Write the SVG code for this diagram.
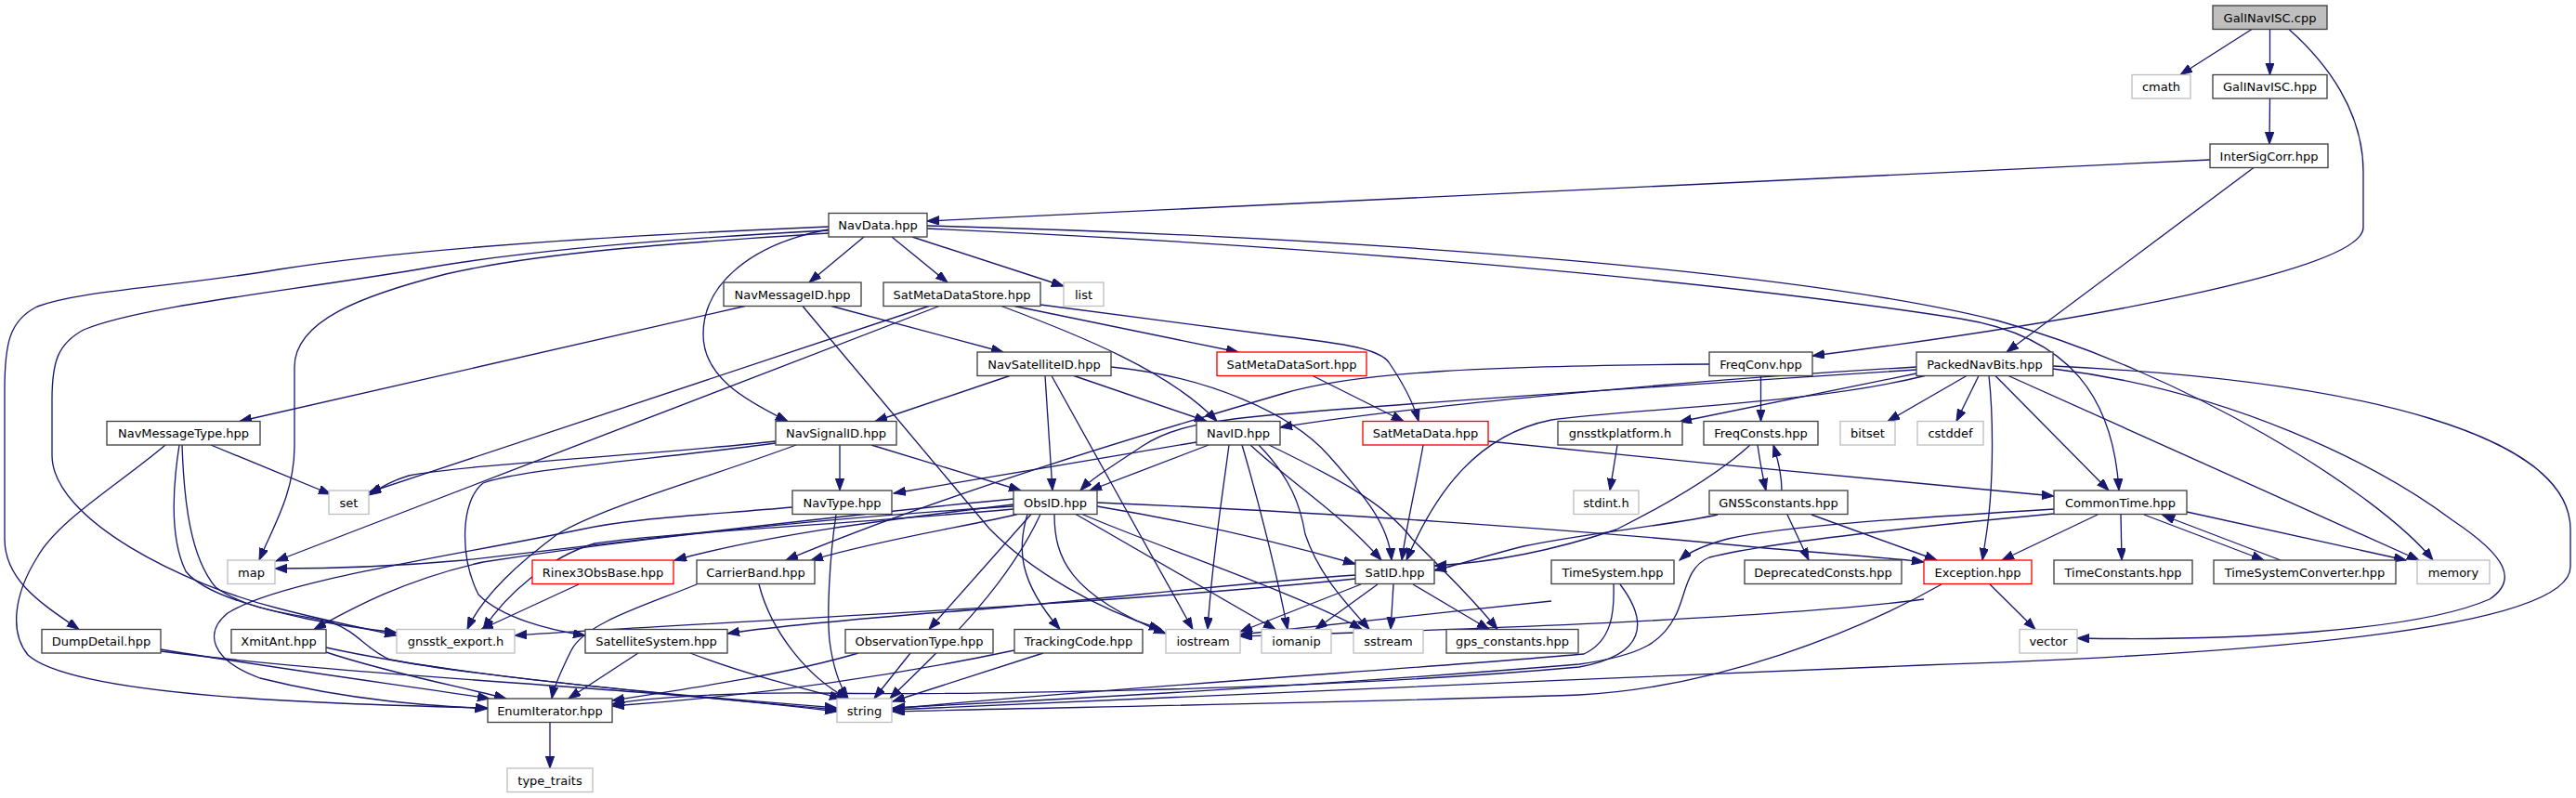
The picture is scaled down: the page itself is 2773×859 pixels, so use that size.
<svg xmlns="http://www.w3.org/2000/svg" width="2773" height="859" viewBox="0 0 2773 859">
<style>
.e path{fill:none;stroke:#191970;stroke-width:1.33;marker-end:url(#a)}
.nd rect{fill:#fff;stroke:#404040;stroke-width:1.33}
.nd.x rect{stroke:#bfbfbf}
.nd.r rect{stroke:#ff0000}
.nd.root rect{fill:#bfbfbf}
text{font-family:"DejaVu Sans","Liberation Sans",sans-serif;font-size:13px;text-anchor:middle;fill:#000}
</style>
<defs>
<marker id="a" markerUnits="userSpaceOnUse" markerWidth="14" markerHeight="10" refX="13" refY="4.7" orient="auto">
<path d="M0,0 L13,4.7 L0,9.4 z" fill="#191970" stroke="#191970" stroke-width="1"/>
</marker>
</defs>
<rect width="2773" height="859" fill="#fff"/>
<g id="edges" class="e">
<path d="M2424,31.5 L2347,80.5"/>
<path d="M2443.5,31.5 L2443.5,80.5"/>
<path d="M2464,31.5 C2505,68 2544,120 2544,185 L2544,245 C2544,290 2250,345 1951,383"/>
<path d="M2443.5,106 L2443,155"/>
<path d="M2379,172 L998,238"/>
<path d="M2426,180.5 L2160,379"/>
<path d="M930,255 L871,304"/>
<path d="M960,255 L1020,304"/>
<path d="M982,255 L1145,308"/>
<path d="M892,247 C810,262 757,305 757,360 C757,405 800,430 848,453.5"/>
<path d="M892,244 C700,252 450,266 300,290 C180,310 90,312 40,330 C10,345 5,370 5,420 L5,580 C5,625 45,650 85,677.5"/>
<path d="M892,248 C700,258 550,272 450,290 C300,315 150,330 90,355 C62,370 56,390 56,430 L56,490 C56,560 200,630 300,655 C350,668 390,676 427,684"/>
<path d="M892,251 C720,262 580,272 480,295 C390,318 317,345 317,395 L317,480 C317,530 295,565 279,603"/>
<path d="M998,246 C1500,268 1900,310 2110,343 C2230,362 2275,430 2281,528"/>
<path d="M998,243 C1500,256 1950,295 2150,345 C2350,400 2560,530 2619,603"/>
<path d="M802,329.5 L258,453.5"/>
<path d="M895,329.5 L1080,379"/>
<path d="M864,329.5 L1065,569 C1110,615 1180,655 1250,677.5"/>
<path d="M1000,329.5 L397,530"/>
<path d="M1011,329.5 L297,604"/>
<path d="M1078,329.5 C1160,360 1260,400 1310,453.5"/>
<path d="M1092,329.5 L1333,379"/>
<path d="M1120,328 L1380,362 C1450,370 1485,376 1495,390 C1512,415 1522,435 1527,453.5"/>
<path d="M1087,404.5 L942,453.5"/>
<path d="M1156,404.5 L1299,453.5"/>
<path d="M1125,404.5 L1133,528"/>
<path d="M1132,404.5 C1180,490 1240,600 1284,677.5"/>
<path d="M1196,395 C1300,405 1390,445 1430,490 C1470,535 1495,565 1498,603"/>
<path d="M1413,404.5 L1511,453.5"/>
<path d="M1840,392 C1600,394 1460,400 1380,424 C1250,462 1020,530 846,603"/>
<path d="M1895.5,404.5 L1895.5,453.5"/>
<path d="M2063,395 C1800,410 1500,440 1378,460"/>
<path d="M2063,398 C1800,415 1500,435 1390,445 C1300,452 1260,460 1230,480 C1200,500 1175,515 1163,528"/>
<path d="M2063,402 L1808,454"/>
<path d="M2072,404.5 C1950,435 1760,440 1670,452 C1590,468 1545,530 1514,603"/>
<path d="M2117,404.5 L2032,453.5"/>
<path d="M2130,404.5 L2106,453.5"/>
<path d="M2148,404.5 L2270,528"/>
<path d="M2141,404.5 C2146,450 2146,520 2139,570 L2134,603"/>
<path d="M2162,404.5 L2604,603"/>
<path d="M2210,397 C2400,420 2560,500 2640,560 C2700,600 2710,625 2680,645 C2600,680 2400,690 2236,687"/>
<path d="M2210,394 C2550,410 2767,470 2767,570 L2767,610 C2767,680 2400,705 2070,716 C1700,730 1200,755 961,764"/>
<path d="M227,479 L356,532"/>
<path d="M178,479 C130,520 62,560 40,600 C15,640 10,680 30,705 C80,750 350,758 524.5,762"/>
<path d="M193,479 C185,530 183,580 200,615 C220,640 280,655 330,666 C370,674 400,678 427,681"/>
<path d="M196,479 C198,540 205,600 232,632 C270,660 330,662 357,670 C385,680 395,700 420,710 C520,730 800,755 901,764"/>
<path d="M904,479 L904,528"/>
<path d="M938,479 L1099,528"/>
<path d="M835,475 C700,490 500,500 440,512 C420,518 410,525 397,533"/>
<path d="M835,477 C700,495 560,505 520,520 C495,540 495,600 515,640 C540,665 590,678 630,684"/>
<path d="M857,479 C760,515 650,545 600,575 C560,605 520,640 503,677.5"/>
<path d="M1288,476 L962,531"/>
<path d="M1301,479 L1173,528"/>
<path d="M1323,479 C1315,540 1305,600 1300,677.5"/>
<path d="M1337,479 C1355,540 1375,620 1386,677.5"/>
<path d="M1346,479 C1390,520 1440,550 1487,603"/>
<path d="M1355,479 C1390,515 1400,545 1405,575 C1420,620 1450,650 1474,677.5"/>
<path d="M1366,479 C1430,510 1490,540 1520,580 C1560,620 1590,650 1612,677.5"/>
<path d="M1532,479 C1525,520 1515,560 1509,603"/>
<path d="M1602,475 C1800,495 2050,520 2211,534"/>
<path d="M1741,479 L1733,528"/>
<path d="M1892,479 C1895,500 1898,515 1901,528"/>
<path d="M1918,528 C1918,510 1914,495 1909,479"/>
<path d="M1884,479 C1850,510 1800,540 1740,570 C1650,600 1580,607 1544,609"/>
<path d="M1849,554 C1800,565 1700,575 1640,588 C1600,598 1570,608 1544,614"/>
<path d="M1924,554 L1947,603"/>
<path d="M1950,554 C2000,572 2050,590 2085,603"/>
<path d="M2258,554 L2155,603"/>
<path d="M2283,554 L2284,603"/>
<path d="M2308,554 L2437,603"/>
<path d="M2455,603 L2328,554.5"/>
<path d="M2354,551 L2590,603"/>
<path d="M2211,548 C2050,558 1920,566 1860,580 C1830,588 1815,597 1808,603"/>
<path d="M2211,553 C2050,568 1900,585 1840,600 C1815,610 1815,640 1804,662 C1790,690 1770,705 1700,715 C1400,740 1100,755 961,762"/>
<path d="M1091,537 C900,555 700,580 500,603 C400,612 330,612 296,612"/>
<path d="M1091,543 C950,560 830,575 726,603"/>
<path d="M1095,553.5 C1050,565 950,580 873,603"/>
<path d="M1091,545 C850,560 650,585 520,605 C430,625 370,660 338,677.5"/>
<path d="M1091,548 C900,565 700,575 640,585 C590,600 545,640 520,677.5"/>
<path d="M1110,553.5 L1000,677.5"/>
<path d="M1106,553.5 C1095,590 1096,625 1141,677.5"/>
<path d="M1135,553.5 C1135,600 1150,640 1255,682"/>
<path d="M1158,553.5 L1373,677.5"/>
<path d="M1165,553.5 C1250,590 1400,640 1466,677.5"/>
<path d="M1181,545 C1300,565 1400,590 1459,607"/>
<path d="M1181,541 C1400,550 1700,570 1900,590 C2000,598 2050,602 2071,605"/>
<path d="M1120,553.5 C1080,640 1000,710 958,752"/>
<path d="M623,629 L518,677.5"/>
<path d="M750,629 C700,650 630,670 615,700 C605,720 596,740 594,752"/>
<path d="M817,629 C830,680 870,730 913,752"/>
<path d="M1459,623 C1200,650 800,668 554,684"/>
<path d="M1459,619 C1300,630 1150,650 1000,660 C880,670 820,676 783,682"/>
<path d="M1465,629 L1335,680"/>
<path d="M1483,629 L1416,677.5"/>
<path d="M1500,629 L1497,677.5"/>
<path d="M1521,629 L1603,677.5"/>
<path d="M1670,647 C1550,660 1400,675 1335,683"/>
<path d="M1737,629 C1738,660 1735,690 1705,704 C1550,718 1200,740 961,763"/>
<path d="M1744,629 C1775,670 1772,705 1700,718 C1400,745 1000,748 880,746 C800,745 700,750 659,758"/>
<path d="M2071,645 C1900,668 1500,680 1335,685"/>
<path d="M2090,629 C2000,680 1850,740 1700,748 C1400,758 1100,762 961,766"/>
<path d="M2142,629 L2191,677.5"/>
<path d="M173,699 C300,720 450,740 527,752"/>
<path d="M173,701 C400,730 700,740 901,766"/>
<path d="M351,702 C420,725 500,740 545,752"/>
<path d="M351,697 C500,730 750,750 901,762"/>
<path d="M687,703 L612,752"/>
<path d="M743,703 C800,725 860,740 906,752"/>
<path d="M924,703 C850,725 750,740 659,754"/>
<path d="M980,703 L941,752"/>
<path d="M1092,700 C950,730 800,750 659,760"/>
<path d="M1123,703 L961,755"/>
<path d="M853,546 C750,555 680,558 625,570 C480,600 300,625 245,660 C220,680 225,710 280,730 C380,755 470,760 524.5,763"/>
<path d="M900,554 C893,600 890,660 893,690 C897,720 905,740 913,752"/>
<path d="M592,777.5 L592,827"/>
</g>
<g id="n_cpp" class="nd root"><rect x="2382" y="6" width="123" height="25.5"/><text x="2443.5" y="23.5">GalINavISC.cpp</text></g>
<g id="n_cmath" class="nd x"><rect x="2295" y="80.5" width="63" height="25.5"/><text x="2326.5" y="98">cmath</text></g>
<g id="n_galhpp" class="nd"><rect x="2382" y="80.5" width="123" height="25.5"/><text x="2443.5" y="98">GalINavISC.hpp</text></g>
<g id="n_isc" class="nd"><rect x="2379" y="155" width="127" height="25.5"/><text x="2442.5" y="172.5">InterSigCorr.hpp</text></g>
<g id="n_navdata" class="nd"><rect x="892" y="229.5" width="106" height="25.5"/><text x="945" y="247">NavData.hpp</text></g>
<g id="n_navmsgid" class="nd"><rect x="779" y="304" width="148" height="25.5"/><text x="853" y="321.5">NavMessageID.hpp</text></g>
<g id="n_smds" class="nd"><rect x="951" y="304" width="169" height="25.5"/><text x="1035.5" y="321.5">SatMetaDataStore.hpp</text></g>
<g id="n_list" class="nd x"><rect x="1145" y="304" width="43" height="25.5"/><text x="1166.5" y="321.5">list</text></g>
<g id="n_navsatid" class="nd"><rect x="1052" y="379" width="144" height="25.5"/><text x="1124" y="396.5">NavSatelliteID.hpp</text></g>
<g id="n_smdsort" class="nd r"><rect x="1310" y="379" width="161" height="25.5"/><text x="1390.5" y="396.5">SatMetaDataSort.hpp</text></g>
<g id="n_freqconv" class="nd"><rect x="1840" y="379" width="111" height="25.5"/><text x="1895.5" y="396.5">FreqConv.hpp</text></g>
<g id="n_pnb" class="nd"><rect x="2063" y="379" width="147" height="25.5"/><text x="2136.5" y="396.5">PackedNavBits.hpp</text></g>
<g id="n_navmsgtype" class="nd"><rect x="115" y="453.5" width="165" height="25.5"/><text x="197.5" y="471">NavMessageType.hpp</text></g>
<g id="n_navsigid" class="nd"><rect x="835" y="453.5" width="130" height="25.5"/><text x="900" y="471">NavSignalID.hpp</text></g>
<g id="n_navid" class="nd"><rect x="1288" y="453.5" width="90" height="25.5"/><text x="1333" y="471">NavID.hpp</text></g>
<g id="n_smd" class="nd r"><rect x="1467" y="453.5" width="135" height="25.5"/><text x="1534.5" y="471">SatMetaData.hpp</text></g>
<g id="n_platform" class="nd"><rect x="1677" y="453.5" width="134" height="25.5"/><text x="1744" y="471">gnsstkplatform.h</text></g>
<g id="n_freqconsts" class="nd"><rect x="1834" y="453.5" width="123" height="25.5"/><text x="1895.5" y="471">FreqConsts.hpp</text></g>
<g id="n_bitset" class="nd x"><rect x="1981" y="453.5" width="59" height="25.5"/><text x="2010.5" y="471">bitset</text></g>
<g id="n_cstddef" class="nd x"><rect x="2064" y="453.5" width="71" height="25.5"/><text x="2099.5" y="471">cstddef</text></g>
<g id="n_set" class="nd x"><rect x="354" y="528" width="43" height="25.5"/><text x="375.5" y="545.5">set</text></g>
<g id="n_navtype" class="nd"><rect x="853" y="528" width="107" height="25.5"/><text x="906.5" y="545.5">NavType.hpp</text></g>
<g id="n_obsid" class="nd"><rect x="1091" y="528" width="90" height="25.5"/><text x="1136" y="545.5">ObsID.hpp</text></g>
<g id="n_stdint" class="nd x"><rect x="1694" y="528" width="70" height="25.5"/><text x="1729" y="545.5">stdint.h</text></g>
<g id="n_gnssc" class="nd"><rect x="1840" y="528" width="149" height="25.5"/><text x="1914.5" y="545.5">GNSSconstants.hpp</text></g>
<g id="n_commontime" class="nd"><rect x="2211" y="528" width="143" height="25.5"/><text x="2282.5" y="545.5">CommonTime.hpp</text></g>
<g id="n_map" class="nd x"><rect x="245" y="603" width="51" height="25.5"/><text x="270.5" y="620.5">map</text></g>
<g id="n_rinex" class="nd r"><rect x="573" y="603" width="152" height="25.5"/><text x="649" y="620.5">Rinex3ObsBase.hpp</text></g>
<g id="n_carrier" class="nd"><rect x="750" y="603" width="127" height="25.5"/><text x="813.5" y="620.5">CarrierBand.hpp</text></g>
<g id="n_satid" class="nd"><rect x="1459" y="603" width="85" height="25.5"/><text x="1501.5" y="620.5">SatID.hpp</text></g>
<g id="n_timesys" class="nd"><rect x="1670" y="603" width="132" height="25.5"/><text x="1736" y="620.5">TimeSystem.hpp</text></g>
<g id="n_deprec" class="nd"><rect x="1878" y="603" width="169" height="25.5"/><text x="1962.5" y="620.5">DeprecatedConsts.hpp</text></g>
<g id="n_exception" class="nd r"><rect x="2071" y="603" width="116" height="25.5"/><text x="2129" y="620.5">Exception.hpp</text></g>
<g id="n_timeconst" class="nd"><rect x="2211" y="603" width="149" height="25.5"/><text x="2285.5" y="620.5">TimeConstants.hpp</text></g>
<g id="n_tsconv" class="nd"><rect x="2383" y="603" width="196" height="25.5"/><text x="2481" y="620.5">TimeSystemConverter.hpp</text></g>
<g id="n_memory" class="nd x"><rect x="2602" y="603" width="78" height="25.5"/><text x="2641" y="620.5">memory</text></g>
<g id="n_dump" class="nd"><rect x="45" y="677.5" width="128" height="25.5"/><text x="109" y="695">DumpDetail.hpp</text></g>
<g id="n_xmit" class="nd"><rect x="249" y="677.5" width="102" height="25.5"/><text x="300" y="695">XmitAnt.hpp</text></g>
<g id="n_export" class="nd x"><rect x="427" y="677.5" width="127" height="25.5"/><text x="490.5" y="695">gnsstk_export.h</text></g>
<g id="n_satsys" class="nd"><rect x="630" y="677.5" width="153" height="25.5"/><text x="706.5" y="695">SatelliteSystem.hpp</text></g>
<g id="n_obstype" class="nd"><rect x="910" y="677.5" width="159" height="25.5"/><text x="989.5" y="695">ObservationType.hpp</text></g>
<g id="n_tracking" class="nd"><rect x="1092" y="677.5" width="138" height="25.5"/><text x="1161" y="695">TrackingCode.hpp</text></g>
<g id="n_iostream" class="nd x"><rect x="1255" y="677.5" width="80" height="25.5"/><text x="1295" y="695">iostream</text></g>
<g id="n_iomanip" class="nd x"><rect x="1358" y="677.5" width="75" height="25.5"/><text x="1395.5" y="695">iomanip</text></g>
<g id="n_sstream" class="nd x"><rect x="1457" y="677.5" width="75" height="25.5"/><text x="1494.5" y="695">sstream</text></g>
<g id="n_gpsc" class="nd"><rect x="1557" y="677.5" width="142" height="25.5"/><text x="1628" y="695">gps_constants.hpp</text></g>
<g id="n_vector" class="nd x"><rect x="2174" y="677.5" width="62" height="25.5"/><text x="2205" y="695">vector</text></g>
<g id="n_enum" class="nd"><rect x="525" y="752" width="134" height="25.5"/><text x="592" y="769.5">EnumIterator.hpp</text></g>
<g id="n_string" class="nd x"><rect x="901" y="752" width="59" height="25.5"/><text x="930.5" y="769.5">string</text></g>
<g id="n_typetraits" class="nd x"><rect x="546" y="827" width="92" height="25.5"/><text x="592" y="844.5">type_traits</text></g>
</svg>
